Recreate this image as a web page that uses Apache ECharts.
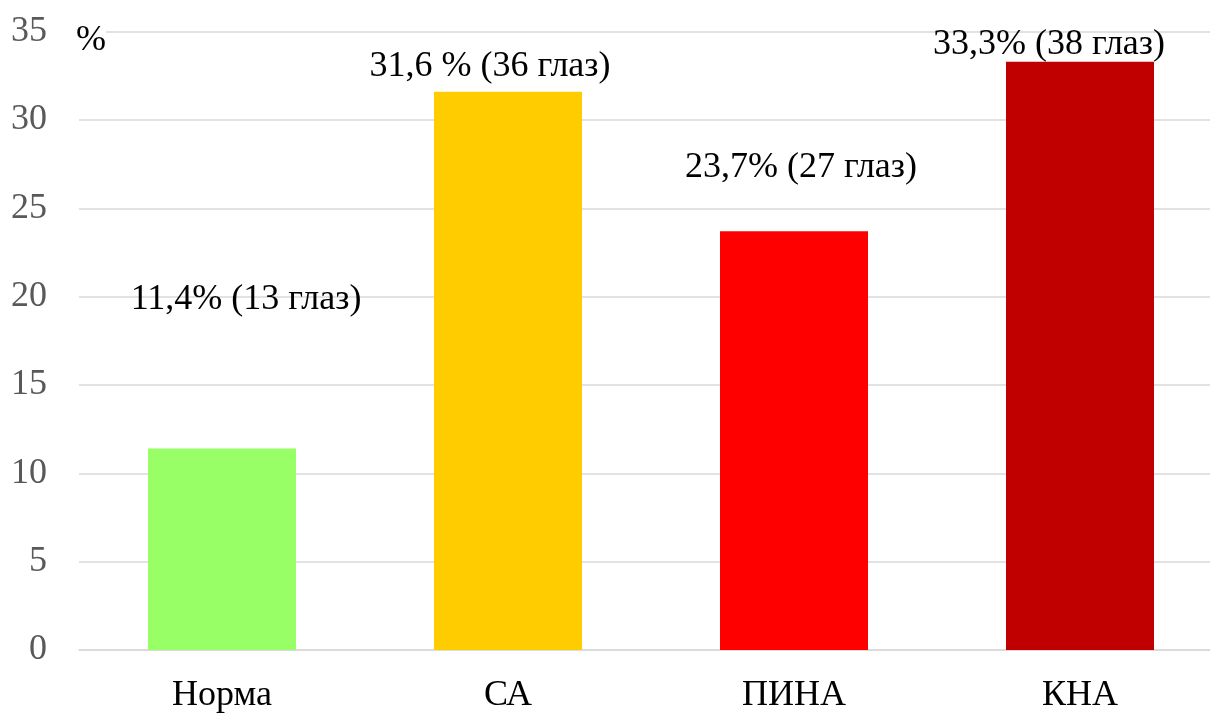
<!DOCTYPE html>
<html>
<head>
<meta charset="utf-8">
<script src="https://cdn.jsdelivr.net/npm/echarts@6/dist/echarts.min.js"></script>
<style>
  html, body { margin: 0; padding: 0; background: #fff; }
  #chart { width: 1210px; height: 715px; }
</style>
</head>
<body>
<div id="chart"></div>
<script>
// Groups and their share of eyes (%)
const categories = ['Норма', 'СА', 'ПИНА', 'КНА'];
const percentValues = [11.4, 31.6, 23.7, 33.3];
const eyeCounts = [13, 36, 27, 38];
const percentGap = ['', ' ', '', ''];
const yTicks = [0, 5, 10, 15, 20, 25, 30, 35];

// Bar fills and label placement (relative to each bar's top-left corner)
const barColors = ['#99FF66', '#FFCC00', '#FF0000', '#C00000'];
const labelPlacement = [[98, -149], [56, -25], [81, -64], [43, -17]];

const FONT = "'Liberation Serif', 'Times New Roman', serif";

const chart = echarts.init(document.getElementById('chart'), null, { renderer: 'canvas' });

const seriesData = percentValues.map((v, i) => ({
  value: v,
  itemStyle: { color: barColors[i] },
  label: { position: labelPlacement[i] }
}));

chart.setOption({
  animation: false,
  backgroundColor: '#ffffff',
  // plot area runs a little past the right edge of the canvas
  grid: {
    left: 79, width: 1144, top: 31.7, bottom: 65,
    containLabel: false, outerBoundsMode: 'none'
  },
  xAxis: {
    type: 'category',
    data: categories,
    axisLine: { show: true, lineStyle: { color: '#d9d9d9', width: 1.5 } },
    axisTick: { show: false },
    axisLabel: { color: '#000', fontFamily: FONT, fontSize: 36, margin: 28 }
  },
  yAxis: {
    type: 'value',
    min: yTicks[0],
    max: yTicks[yTicks.length - 1],
    interval: yTicks[1] - yTicks[0],
    axisLine: { show: false },
    axisTick: { show: false },
    splitLine: { lineStyle: { color: '#d9d9d9', width: 1.5 } },
    axisLabel: { color: '#595959', fontFamily: FONT, fontSize: 36, margin: 32 }
  },
  series: [{
    type: 'bar',
    data: seriesData,
    barWidth: 148,
    label: {
      show: true,
      color: '#000',
      fontFamily: FONT,
      fontSize: 36,
      align: 'center',
      verticalAlign: 'middle',
      formatter: p => {
        const i = p.dataIndex;
        return p.value.toFixed(1).replace('.', ',') + percentGap[i] + '% (' + eyeCounts[i] + ' глаз)';
      }
    }
  }],
  graphic: [{
    type: 'text',
    left: 76,
    top: 23,
    z: 100,
    style: {
      text: '%',
      fill: '#000',
      font: '36px ' + FONT,
      backgroundColor: '#ffffff'
    }
  }]
});
</script>
</body>
</html>
